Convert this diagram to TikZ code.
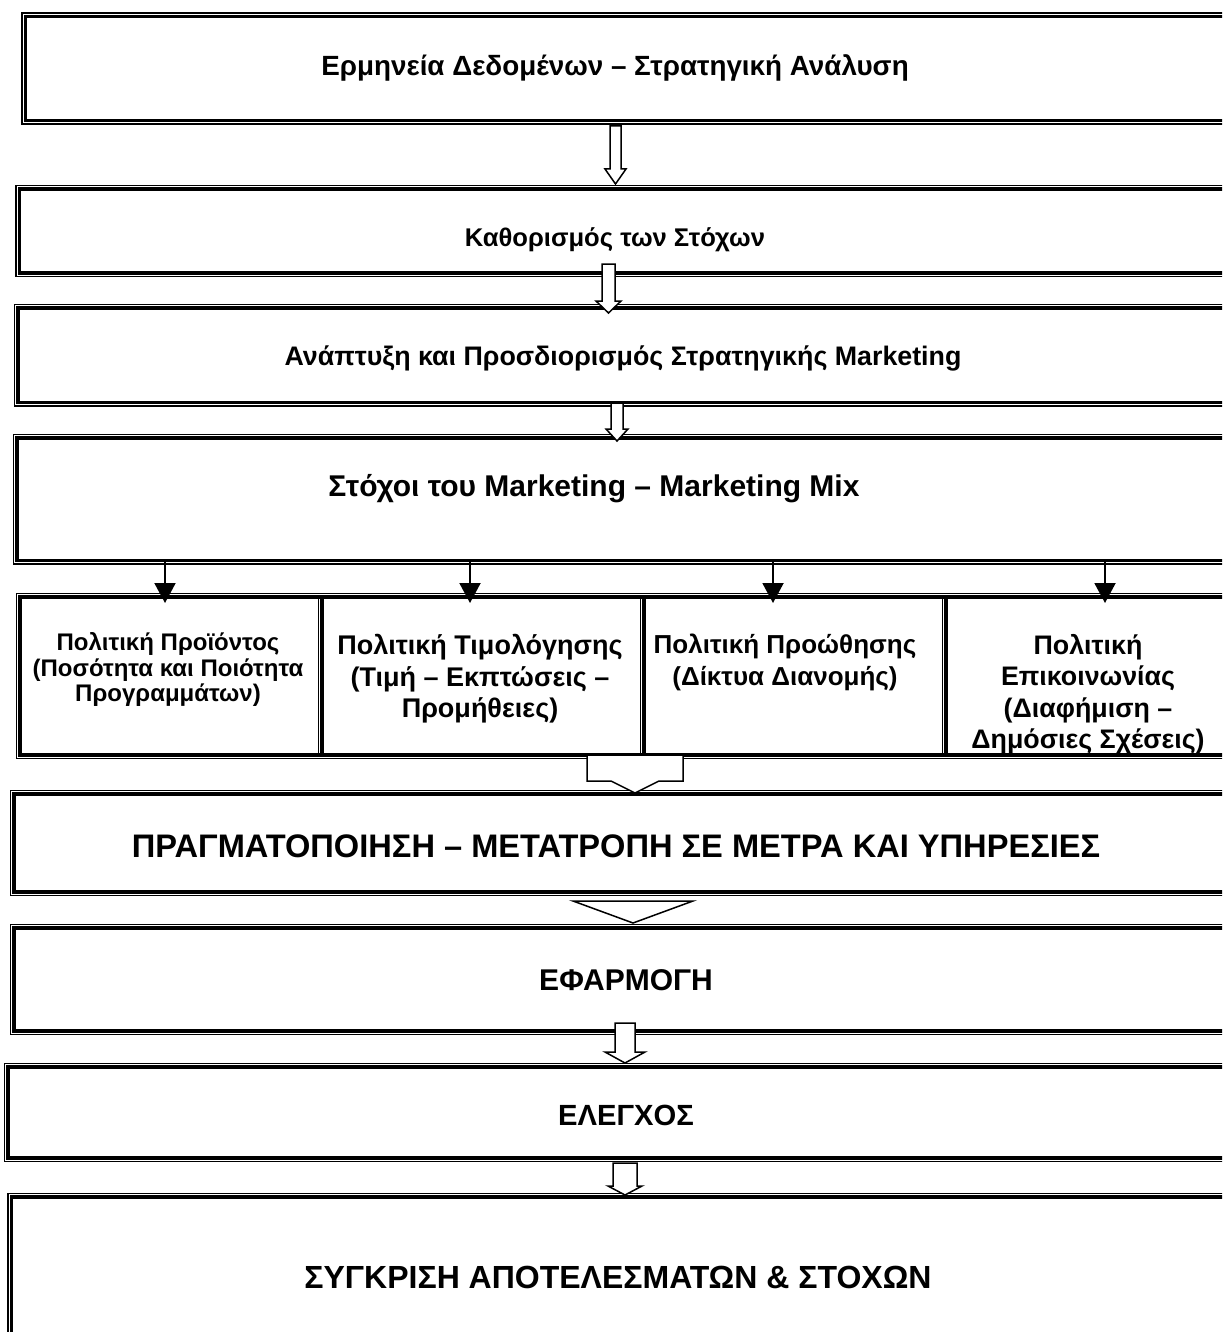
\documentclass[tikz,border=0pt]{standalone}
\usepackage{fontspec}
\setmainfont{Liberation Sans}
\usetikzlibrary{arrows.meta,positioning,fit,calc}

% hollow block arrow: top, tip, half shaft, half head, head length
\newcommand{\hollowdown}[5]{%
  \draw[hollow] ($(#1)+(-#3,0)$) -- ($(#1)+(#3,0)$) -- ($(#2)+(#3,-#5)$)
    -- ($(#2)+(#4,-#5)$) -- (#2) -- ($(#2)+(-#4,-#5)$) -- ($(#2)+(-#3,-#5)$) -- cycle;}
\newcommand{\fs}[1]{\bfseries\fontsize{#1}{15.7}\selectfont}

\begin{document}
\begin{tikzpicture}[
  x=0.5pt,y=-0.5pt,
  tbox/.style={draw,line width=1.75pt,inner sep=0pt,outer sep=0pt},
  frame/.style={draw,line width=0.75pt,inner sep=1.75pt,outer sep=0pt},
  txt/.style={align=center,inner sep=0pt},
  hollow/.style={draw,fill=white,line width=0.75pt},
  arr/.style={-{Triangle[length=10pt,width=10.5pt]},line width=1pt}
]
\useasboundingbox (0,0) rectangle (1222,1332);
\clip (0,0) rectangle (1222,1332);

% boxes
\node[tbox,fit={(25.5,16.5) (1262,120.5)}] (b1) {};
\node[tbox,fit={(19.5,189) (1262,273)}] (b2) {};
\node[tbox,fit={(18,308) (1262,402.5)}] (b3) {};
\node[tbox,fit={(17,438) (1262,560.5)}] (b4) {};
\node[tbox,fit={(20,597) (1262,755)}] (row) {};
\node[tbox,fit={(14,794) (1262,892)}] (b6) {};
\node[tbox,fit={(14,928) (1262,1031)}] (b7) {};
\node[tbox,fit={(8,1067) (1262,1158)}] (b8) {};
\node[tbox,fit={(11.5,1197) (1262,1360)}] (b9) {};
\foreach \b in {b1,b2,b3,b4,row,b6,b7,b8,b9}
  \node[frame,fit=(\b)] (\b-f) {};

% cells of the mix
\foreach \x in {322,644,946} {
  \draw[line width=1.75pt] (row.north -| \x,0) -- (row.south -| \x,0);
  \draw[line width=0.75pt] ($(row.north -| \x,0)+(-3.5,0)$) -- ($(row.south -| \x,0)+(-3.5,0)$);
}

\node[txt,font=\fs{13.9}] (t1) at (615,68) {Ερμηνεία Δεδομένων – Στρατηγική Ανάλυση};
\node[txt,font=\fs{12.8}] (t2) at (615,240) {Καθορισμός των Στόχων};
\node[txt,font=\fs{13.4}] (t3) at (623,358) {Ανάπτυξη και Προσδιορισμός Στρατηγικής Marketing};
\node[txt,font=\fs{15}] (t4) at (594,489) {Στόχοι του Marketing – Marketing Mix};

\node[txt,anchor=north,font={\bfseries\fontsize{12}{12.8}\selectfont}] (p1) at (168,632)
  {Πολιτική Προϊόντος\\(Ποσότητα και Ποιότητα\\Προγραμμάτων)};
\node[txt,anchor=north,font=\fs{13.5}] (p2) at (480,634) {Πολιτική Τιμολόγησης\\(Τιμή – Εκπτώσεις –\\Προμήθειες)};
\node[txt,anchor=north,font=\fs{13}] (p3) at (785,634) {Πολιτική Προώθησης\\(Δίκτυα Διανομής)};
\node[txt,anchor=north,font=\fs{13.4}] (p4) at (1088,634) {Πολιτική\\Επικοινωνίας\\(Διαφήμιση –\\Δημόσιες Σχέσεις)};

\node[txt,font=\fs{16.3}] (t6) at (616,846) {ΠΡΑΓΜΑΤΟΠΟΙΗΣΗ – ΜΕΤΑΤΡΟΠΗ ΣΕ ΜΕΤΡΑ ΚΑΙ ΥΠΗΡΕΣΙΕΣ};
\node[txt,font=\fs{15}] (t7) at (626,980) {ΕΦΑΡΜΟΓΗ};
\node[txt,font=\fs{14.6}] (t8) at (626,1115) {ΕΛΕΓΧΟΣ};
\node[txt,font=\fs{16}] (t9) at (618,1277) {ΣΥΓΚΡΙΣΗ ΑΠΟΤΕΛΕΣΜΑΤΩΝ \& ΣΤΟΧΩΝ};

% arrows into the mix
\foreach \x in {165,470,773,1105}
  \draw[arr] (b4.south -| \x,0) -- ($(row.north -| \x,0)+(0,6)$);

% block arrows
\coordinate (a1) at (615.5,126);  \coordinate (a1e) at (615.5,184);
\coordinate (a2) at (608.5,264);  \coordinate (a2e) at (608.5,313);
\coordinate (a3) at (617,403);    \coordinate (a3e) at (617,441);
\coordinate (a4) at (635,755);    \coordinate (a4e) at (635,793);
\coordinate (a5) at (633,901);    \coordinate (a5e) at (633,923);
\coordinate (a6) at (625,1023);   \coordinate (a6e) at (625,1063);
\coordinate (a7) at (625,1163);   \coordinate (a7e) at (625,1195);
\hollowdown{a1}{a1e}{5.5}{10.5}{15}
\hollowdown{a2}{a2e}{6.5}{12.5}{12}
\hollowdown{a3}{a3e}{6}{11}{12}
\hollowdown{a4}{a4e}{48}{24}{12}
\draw[hollow] ($(a5)+(-60,0)$) -- ($(a5)+(60,0)$) -- (a5e) -- cycle;
\hollowdown{a6}{a6e}{10}{20}{11}
\hollowdown{a7}{a7e}{12}{17}{9}
\end{tikzpicture}
\end{document}
